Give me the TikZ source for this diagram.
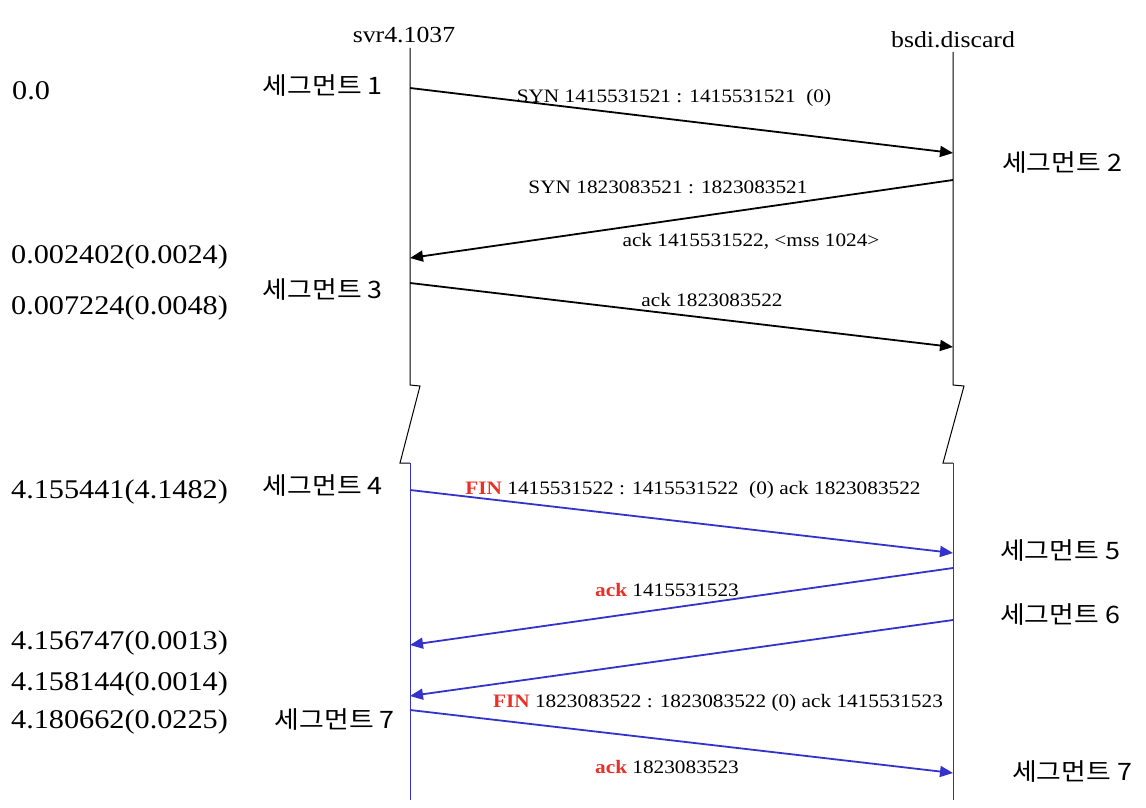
\documentclass[tikz,border=0pt]{standalone}
\usepackage{fontspec}
\setmainfont{Liberation Serif}[FakeStretch=1.12]
\newfontfamily\kofont{Noto Sans CJK KR}[FakeStretch=1.12]
\usetikzlibrary{arrows.meta}
\definecolor{flowblue}{RGB}{51,51,204}
\definecolor{flagred}{RGB}{232,48,40}
\newcommand{\flag}[1]{\textbf{\textcolor{flagred}{#1}}}

\begin{document}
\begin{tikzpicture}[x=1pt,y=-1pt,
  life/.style={line width=1pt},
  msg/.style={line width=1.8pt,-{Triangle[length=13pt,width=11pt]}},
  finmsg/.style={msg,draw=flowblue,fill=flowblue},
  lbl/.style={font=\fontsize{19}{22}\selectfont,inner sep=0pt},
  seg/.style={font=\kofont\fontsize{24}{27}\selectfont,inner sep=0pt},
  tstamp/.style={font=\fontsize{27}{30}\selectfont,anchor=west,inner sep=0pt},
  host/.style={font=\fontsize{23}{26}\selectfont,inner sep=0pt}]
\useasboundingbox (0,0) rectangle (1146,808);

\node[host] (svr) at (404,35) {svr4.1037};
\node[host] (bsdi) at (953,40) {bsdi.discard};

% lifelines, with the break marks
\coordinate (svrtop) at (410,48);
\coordinate (svrcut) at (410,385);
\coordinate (svrgo) at (410,463);
\coordinate (svrend) at (410,800);
\coordinate (bsditop) at (953,52);
\coordinate (bsdicut) at (953,385);
\coordinate (bsdigo) at (953,463);
\coordinate (bsdiend) at (953,800);
\draw[life] (svrtop) -- (svrcut) -- ++(10,1) -- (400,463) -- (svrgo);
\draw[life] (bsditop) -- (bsdicut) -- ++(11,1) -- (943,463) -- (bsdigo);
\draw[life,flowblue] (svrgo) -- (svrend);
\draw[life,flowblue] (bsdigo) -- (bsdiend);

\node[tstamp] (t0) at (12,91) {0.0};
\node[tstamp] (t1) at (11,257) {0.002402(0.0024)};
\node[tstamp] (t2) at (11,308) {0.007224(0.0048)};
\node[tstamp] (t3) at (11,492) {4.155441(4.1482)};
\node[tstamp] (t4) at (11,643) {4.156747(0.0013)};
\node[tstamp] (t5) at (11,684) {4.158144(0.0014)};
\node[tstamp] (t6) at (11,722) {4.180662(0.0225)};

\node[seg,anchor=east] (seg1) at (383,86) {세그먼트 1};
\node[seg,anchor=west] (seg2) at (1002,163) {세그먼트 2};
\node[seg,anchor=east] (seg3) at (383,290) {세그먼트 3};
\node[seg,anchor=east] (seg4) at (383,486) {세그먼트 4};
\node[seg,anchor=west] (seg5) at (1000,551) {세그먼트 5};
\node[seg,anchor=west] (seg6) at (1000,615) {세그먼트 6};
\node[seg,anchor=east] (seg7a) at (395,720) {세그먼트 7};
\node[seg,anchor=west] (seg7b) at (1012,772) {세그먼트 7};

\coordinate (s1) at (410,88);   \coordinate (r1) at (953,153);
\coordinate (r2) at (953,180);  \coordinate (s2) at (410,258);
\coordinate (s3) at (410,283);  \coordinate (r3) at (953,347);
\coordinate (s4) at (410,490);  \coordinate (r4) at (953,553);
\coordinate (r5) at (953,568);  \coordinate (s5) at (410,645);
\coordinate (r6) at (953,620);  \coordinate (s6) at (410,696);
\coordinate (s7) at (410,710);  \coordinate (r7) at (953,773);

\draw[msg] (s1) -- (r1);
\draw[msg] (r2) -- (s2);
\draw[msg] (s3) -- (r3);
\draw[finmsg] (s4) -- (r4);
\draw[finmsg] (r5) -- (s5);
\draw[finmsg] (r6) -- (s6);
\draw[finmsg] (s7) -- (r7);

\node[lbl] (m1) at (674,98) {SYN 1415531521 : 1415531521~ (0)};
\node[lbl] (m2) at (668,187) {SYN 1823083521 : 1823083521};
\node[lbl] (m2b) at (751,241) {ack 1415531522, <mss 1024>};
\node[lbl] (m3) at (712,300) {ack 1823083522};
\node[lbl] (m4) at (693,490) {\flag{FIN} 1415531522 : 1415531522~ (0) ack 1823083522};
\node[lbl] (m5) at (667,590) {\flag{ack} 1415531523};
\node[lbl] (m6) at (718,703) {\flag{FIN} 1823083522 : 1823083522 (0) ack 1415531523};
\node[lbl] (m7) at (667,767) {\flag{ack} 1823083523};
\end{tikzpicture}
\end{document}
